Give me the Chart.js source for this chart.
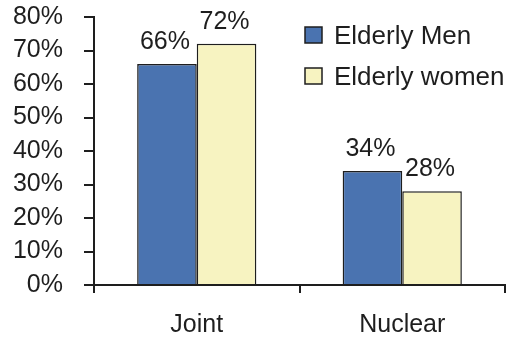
<!DOCTYPE html>
<html>
<head>
<meta charset="utf-8">
<script src="https://cdn.jsdelivr.net/npm/chart.js@4/dist/chart.umd.min.js"></script>
<style>
  html, body { margin: 0; padding: 0; background: #fff; }
  #wrap { width: 513px; height: 343px; position: relative; }
</style>
</head>
<body>
<div id="wrap"><canvas id="c"></canvas></div>
<script>
// Living arrangement of the elderly, share by sex
const categories = ['Joint', 'Nuclear'];
const seriesNames = ['Elderly Men', 'Elderly women'];
const elderlyMen = [66, 34];
const elderlyWomen = [72, 28];
const yTicks = [0, 10, 20, 30, 40, 50, 60, 70, 80];

const FONT = '"Liberation Sans", Arial, sans-serif';
const INK = '#1e1e1e';

// Percent labels above each bar
const valueLabels = {
  id: 'valueLabels',
  afterDatasetsDraw(chart) {
    const ctx = chart.ctx;
    ctx.save();
    ctx.font = '25px ' + FONT;
    ctx.fillStyle = INK;
    ctx.textAlign = 'center';
    ctx.textBaseline = 'alphabetic';
    chart.data.datasets.forEach((ds, i) => {
      chart.getDatasetMeta(i).data.forEach((bar, j) => {
        ctx.fillText(ds.data[j] + '%', bar.x - 2, bar.y - 15);
      });
    });
    ctx.restore();
  }
};

// Boxed legend in the upper right
const boxLegend = {
  id: 'boxLegend',
  afterDraw(chart) {
    const ctx = chart.ctx;
    ctx.save();
    ctx.font = '26px ' + FONT;
    ctx.textBaseline = 'alphabetic';
    chart.data.datasets.forEach((ds, i) => {
      const top = 27 + i * 41;
      ctx.fillStyle = ds.backgroundColor;
      ctx.fillRect(305, top, 17, 16);
      ctx.strokeStyle = INK;
      ctx.lineWidth = 1.5;
      ctx.strokeRect(305, top, 17, 16);
      ctx.fillStyle = INK;
      ctx.fillText(ds.label, 334, top + 17);
    });
    ctx.restore();
  }
};

new Chart(document.getElementById('c'), {
  type: 'bar',
  data: {
    labels: categories,
    datasets: [
      { label: seriesNames[0], data: elderlyMen, backgroundColor: '#4a73b0', borderColor: INK, borderWidth: 1.5 },
      { label: seriesNames[1], data: elderlyWomen, backgroundColor: '#f7f3c1', borderColor: INK, borderWidth: 1.5 }
    ]
  },
  options: {
    responsive: true,
    maintainAspectRatio: false,
    animation: false,
    layout: { padding: { top: 17, right: 8, left: 0, bottom: 0 } },
    categoryPercentage: 0.58,
    barPercentage: 1.0,
    plugins: { legend: { display: false }, tooltip: { enabled: false } },
    scales: {
      x: {
        offset: true,
        grid: { offset: true, drawOnChartArea: false, drawTicks: true, tickLength: 8, color: INK, lineWidth: 2 },
        border: { display: true, color: INK, width: 2 },
        ticks: { font: { size: 25, family: FONT }, color: INK, padding: 17 },
        afterFit(scale) { scale.height = 58; scale.paddingLeft = 0; scale.paddingRight = 0; }
      },
      y: {
        min: 0,
        max: 80,
        afterBuildTicks(scale) { scale.ticks = yTicks.map(v => ({ value: v })); },
        grid: { drawOnChartArea: false, drawTicks: true, tickLength: 10, color: INK, lineWidth: 2 },
        border: { display: true, color: INK, width: 2 },
        ticks: { font: { size: 25, family: FONT }, color: INK, padding: 21, callback: v => v + '%' },
        afterFit(scale) { scale.width = 94; scale.paddingTop = 0; scale.paddingBottom = 0; }
      }
    }
  },
  plugins: [valueLabels, boxLegend]
});
</script>
</body>
</html>
